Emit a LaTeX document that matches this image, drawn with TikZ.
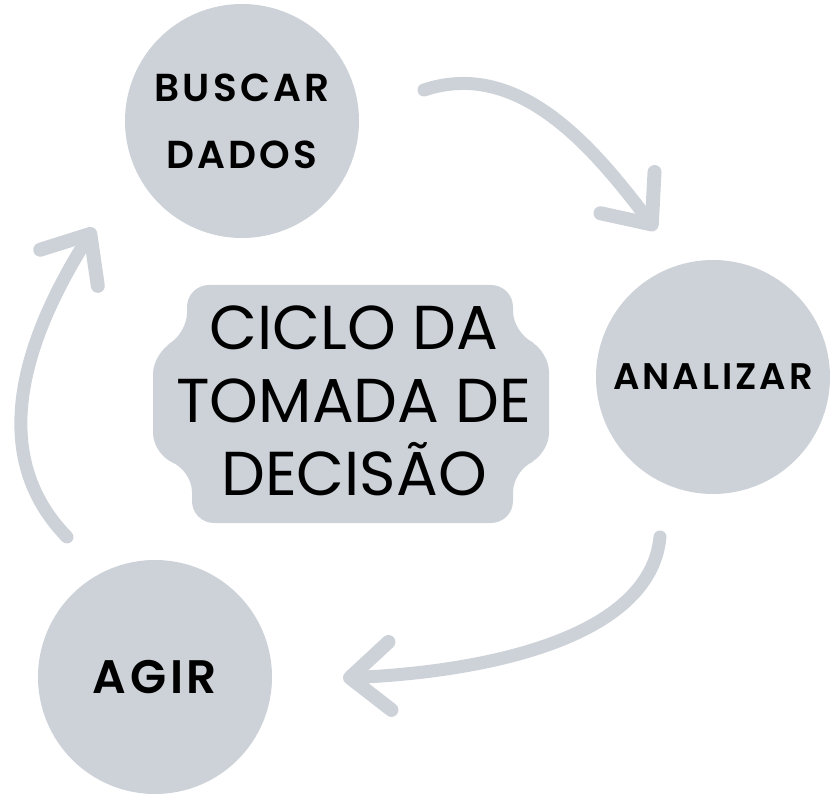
\documentclass[tikz,border=0pt]{standalone}
\usepackage{fontspec}
\setmainfont{Poppins}
\IfFontExistsTF{Poppins SemiBold}
  {\newfontfamily\rotulo[LetterSpace=8]{Poppins SemiBold}}
  {\newfontfamily\rotulo[LetterSpace=8,FakeBold=1.5]{Poppins}}
\usetikzlibrary{positioning,arrows.meta}
\definecolor{cinza}{RGB}{205,210,217}

\tikzset{
    etapa/.style={circle, fill=cinza, minimum size=234pt, inner sep=0pt, align=center, text=black},
    seta/.style={draw=cinza, line width=13pt, line cap=round,
        -{Straight Barb[length=40pt,width=68pt,line width=14pt,line cap=round,line join=round]}}
}

\begin{document}
\begin{tikzpicture}[x=1pt,y=-1pt]
    \useasboundingbox (0,0) rectangle (836,802);

    \fill[cinza, rounded corners=22pt]
        (187,285) -- (513,285) -- (513,333) -- (549,350) -- (549,455) -- (513,470)
        -- (513,523) -- (192,523) -- (192,470) -- (153,455) -- (153,352) -- (187,335) -- cycle;
    \node[align=center, font=\fontsize{62}{73}\selectfont] (ciclo) at (354,401)
        {CICLO DA\\TOMADA DE\\DECISÃO};

    \node[etapa, font=\rotulo\fontsize{39}{67}\selectfont] (buscar) at (242,121) {BUSCAR\\DADOS};
    \node[etapa, font=\rotulo\fontsize{37}{40}\selectfont] (analisar) at (713,377) {ANALIZAR};
    \node[etapa, font=\rotulo\fontsize{47}{50}\selectfont] (agir) at (155,677) {AGIR};

    \coordinate (busca-sai) at (424,90);
    \coordinate (analisa-entra) at (656,230);
    \coordinate (analisa-sai) at (660,537);
    \coordinate (agir-entra) at (343,678);
    \coordinate (agir-sai) at (67,537);
    \coordinate (busca-entra) at (94,228);

    \draw[seta] (busca-sai) .. controls (520,58) and (595,150) .. (analisa-entra);
    \draw[seta] (analisa-sai) .. controls (650,640) and (480,672) .. (agir-entra);
    \draw[seta] (agir-sai) .. controls (-18,450) and (30,330) .. (busca-entra);
\end{tikzpicture}
\end{document}
